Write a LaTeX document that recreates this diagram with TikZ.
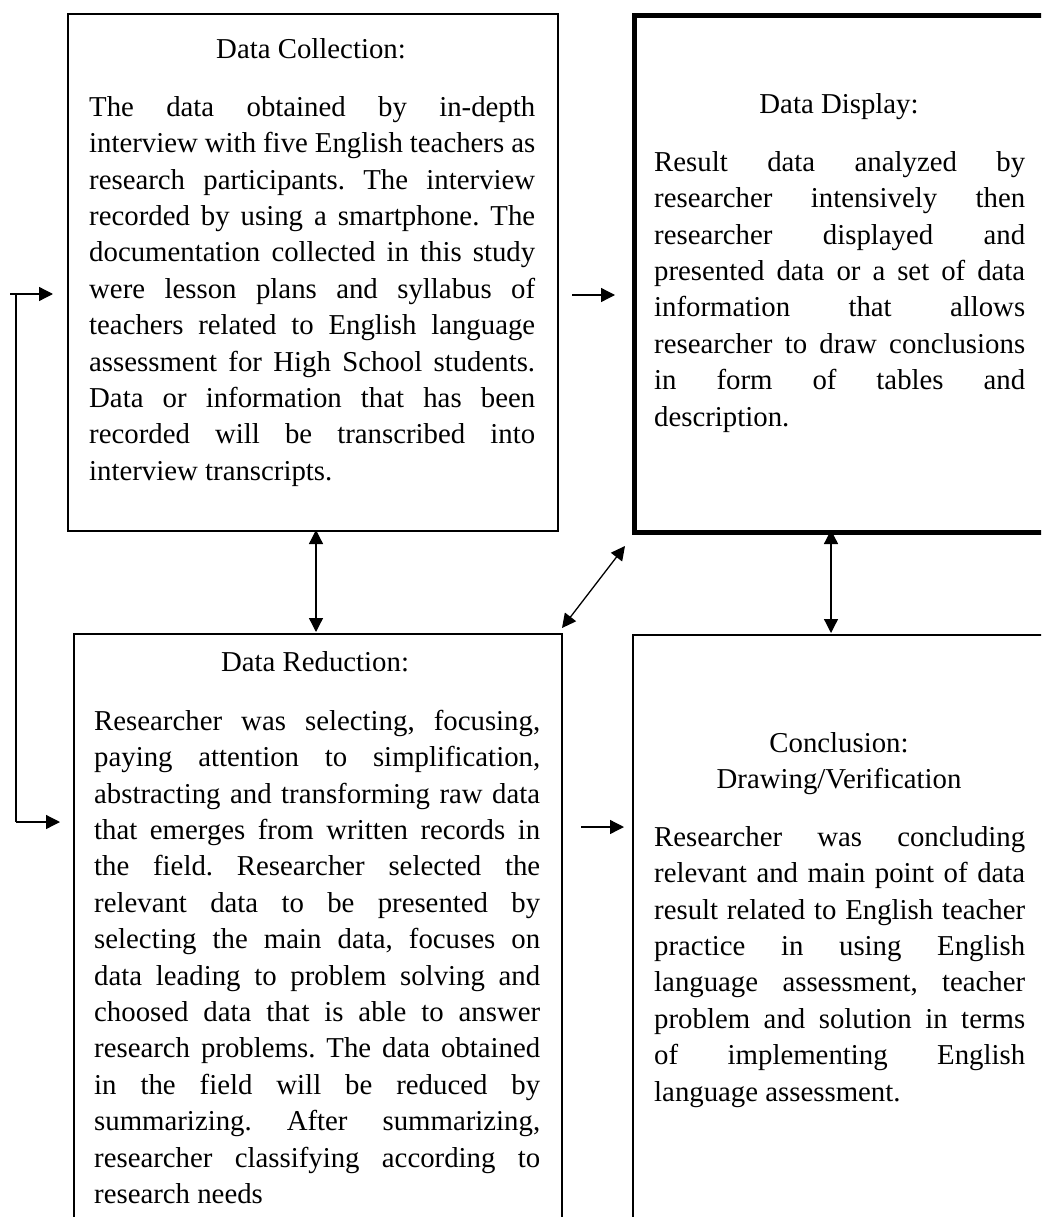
\documentclass[tikz,border=0pt]{standalone}
\usepackage{fontspec}
\setmainfont{Liberation Serif}
\usetikzlibrary{arrows.meta}
\newcommand\jl[2]{\makebox[#1][s]{#2}}
\frenchspacing
\begin{document}
\begin{tikzpicture}[x=1pt,y=-1pt,
  boxthin/.style={draw, line width=2pt, rectangle, inner sep=0pt, anchor=north west},
  boxthick/.style={draw, line width=5pt, rectangle, inner sep=0pt, anchor=north west},
  titletext/.style={inner sep=0pt, anchor=base, font=\fontsize{28.8}{36.4}\selectfont, align=center},
  bodytext/.style={inner sep=0pt, anchor=north west, align=left, font=\fontsize{28.8}{36.4}\selectfont},
  conn/.style={line width=1.3pt, -{Triangle[length=14pt,width=14pt]}},
  dconn/.style={line width=1.3pt, {Triangle[length=14pt,width=14pt]}-{Triangle[length=14pt,width=14pt]}},
  plain/.style={line width=1.3pt}]
\clip (0,0) rectangle (1041,1217);
\fill[white] (0,0) rectangle (1041,1217);

% boxes
\node[boxthin, minimum width=490pt, minimum height=517pt] (coll) at (67,13) {};
\node[boxthick, minimum width=440pt, minimum height=517pt] (disp) at (632,13) {};
\node[boxthin, minimum width=488pt, minimum height=620pt] (red) at (73,633) {};
\node[boxthin, minimum width=440pt, minimum height=620pt] (conc) at (632,634) {};

% Data Collection
\node[titletext] (colltitle) at (311,59) {Data Collection:};
\node[bodytext] (collbody) at (89,95) {%
\jl{446pt}{\rule{0pt}{21pt}The data obtained by in-depth}\\
\jl{446pt}{interview with five English teachers as}\\
\jl{446pt}{research participants. The interview}\\
\jl{446pt}{recorded by using a smartphone. The}\\
\jl{446pt}{documentation collected in this study}\\
\jl{446pt}{were lesson plans and syllabus of}\\
\jl{446pt}{teachers related to English language}\\
\jl{446pt}{assessment for High School students.}\\
\jl{446pt}{Data or information that has been}\\
\jl{446pt}{recorded will be transcribed into}\\
interview transcripts.};

% Data Display
\node[titletext] (disptitle) at (839,114) {Data Display:};
\node[bodytext] (dispbody) at (654,150) {%
\jl{371pt}{\rule{0pt}{21pt}Result data analyzed by}\\
\jl{371pt}{researcher intensively then}\\
\jl{371pt}{researcher displayed and}\\
\jl{371pt}{presented data or a set of data}\\
\jl{371pt}{information that allows}\\
\jl{371pt}{researcher to draw conclusions}\\
\jl{371pt}{in form of tables and}\\
description.};

% Data Reduction
\node[titletext] (redtitle) at (315,671) {Data Reduction:};
\node[bodytext] (redbody) at (94,709) {%
\jl{446pt}{\rule{0pt}{21pt}Researcher was selecting, focusing,}\\
\jl{446pt}{paying attention to simplification,}\\
\jl{446pt}{abstracting and transforming raw data}\\
\jl{446pt}{that emerges from written records in}\\
\jl{446pt}{the field. Researcher selected the}\\
\jl{446pt}{relevant data to be presented by}\\
\jl{446pt}{selecting the main data, focuses on}\\
\jl{446pt}{data leading to problem solving and}\\
\jl{446pt}{choosed data that is able to answer}\\
\jl{446pt}{research problems. The data obtained}\\
\jl{446pt}{in the field will be reduced by}\\
\jl{446pt}{summarizing. After summarizing,}\\
\jl{446pt}{researcher classifying according to}\\
research needs};

% Conclusion
\node[titletext] (conctitle1) at (839,752) {Conclusion:};
\node[titletext] (conctitle2) at (839,788) {Drawing/Verification};
\node[bodytext] (concbody) at (654,825) {%
\jl{371pt}{\rule{0pt}{21pt}Researcher was concluding}\\
\jl{371pt}{relevant and main point of data}\\
\jl{371pt}{result related to English teacher}\\
\jl{371pt}{practice in using English}\\
\jl{371pt}{language assessment, teacher}\\
\jl{371pt}{problem and solution in terms}\\
\jl{371pt}{of implementing English}\\
language assessment.};

% connector end points
\coordinate (loopTopL) at (10,294);
\coordinate (loopTop) at (16,294);
\coordinate (loopBot) at (16,822);
\coordinate (collIn) at (53,294);
\coordinate (redIn) at (60,822);
\coordinate (collOut) at (572,295);
\coordinate (dispIn) at (615,295);
\coordinate (redOut) at (581,827);
\coordinate (concIn) at (624,827);
\coordinate (collB) at (316,530);
\coordinate (redT) at (316,632);
\coordinate (dispB) at (831,530);
\coordinate (concT) at (831,633);
\coordinate (redTR) at (562,628);
\coordinate (dispBL) at (625,546);

% connectors
\draw[plain] (loopTop) -- (loopBot);
\draw[conn] (loopTopL) -- (collIn);
\draw[conn] (loopBot) -- (redIn);
\draw[conn] (collOut) -- (dispIn);
\draw[conn] (redOut) -- (concIn);
\draw[dconn] (collB) -- (redT);
\draw[dconn] (dispB) -- (concT);
\draw[dconn] (redTR) -- (dispBL);
\end{tikzpicture}
\end{document}
